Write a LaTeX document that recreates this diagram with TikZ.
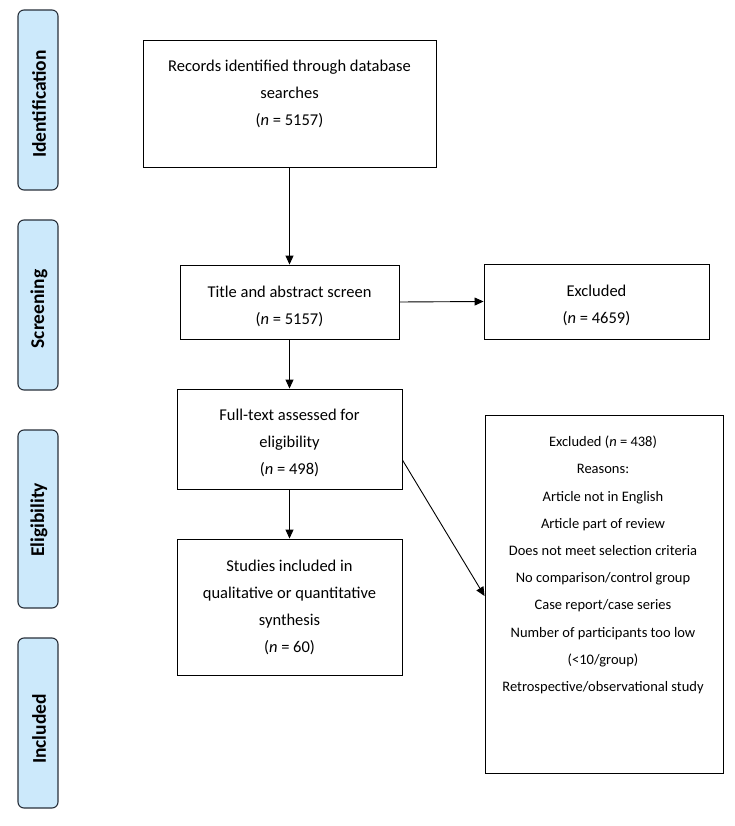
\documentclass[tikz,border=0pt]{standalone}
\usepackage{fontspec}
\setmainfont{Carlito}
\usetikzlibrary{arrows.meta}
\definecolor{phasefill}{RGB}{204,233,251}
\definecolor{phaseline}{RGB}{40,48,58}
\tikzset{
  flowbox/.style={draw=black, line width=0.9pt, rectangle, inner sep=0pt},
  flowtext/.style={align=center, font=\fontsize{16.5}{27}\selectfont, inner sep=0pt},
  smalltext/.style={align=center, font=\fontsize{14.5}{27.2}\selectfont, inner sep=0pt},
  phasebox/.style={draw=phaseline, fill=phasefill, line width=1.1pt, rounded corners=6pt,
    minimum width=40pt, inner sep=0pt},
  phasetext/.style={rotate=90, font=\fontsize{19.5}{22}\selectfont\bfseries, inner sep=0pt},
  arr/.style={line width=0.9pt, -{Triangle[width=8pt,length=9pt]}}
}
\begin{document}
\begin{tikzpicture}[x=1pt,y=-1pt]
\useasboundingbox (0,0) rectangle (734,826);

% phase labels
\node[phasebox, minimum height=180pt] (pid) at (38,100) {};
\node[phasetext] (tid) at (39,104) {Identification};
\node[phasebox, minimum height=170pt] (psc) at (38,305) {};
\node[phasetext] (tsc) at (39,309) {Screening};
\node[phasebox, minimum height=178pt] (pel) at (38,519) {};
\node[phasetext] (tel) at (39,520) {Eligibility};
\node[phasebox, minimum height=170pt] (pin) at (38,723) {};
\node[phasetext] (tin) at (39,729) {Included};

% boxes
\node[flowbox, minimum width=293pt, minimum height=127pt] (rec) at (289.5,103.5) {};
\node[flowtext] (trec) at (289.5,94) {Records identified through database\\searches\\(\textit{n} = 5157)};

\node[flowbox, minimum width=219pt, minimum height=74pt] (tit) at (289.5,302) {};
\node[flowtext] (ttit) at (289.5,306) {Title and abstract screen\\(\textit{n} = 5157)};

\node[flowbox, minimum width=225pt, minimum height=75pt] (ex1) at (596.5,301.5) {};
\node[flowtext] (tex1) at (596.5,305) {Excluded\\(\textit{n} = 4659)};

\node[flowbox, minimum width=225pt, minimum height=100pt] (ful) at (289.5,439) {};
\node[flowtext] (tful) at (289.5,443) {Full-text assessed for\\eligibility\\(\textit{n} = 498)};

\node[flowbox, minimum width=225pt, minimum height=136pt] (stu) at (289.5,607) {};
\node[flowtext] (tstu) at (289.5,607) {Studies included in\\qualitative or quantitative\\synthesis\\(\textit{n} = 60)};

\node[flowbox, minimum width=238pt, minimum height=358pt] (ex2) at (604,594) {};
\node[smalltext] (tex2) at (603,565) {Excluded (\textit{n} = 438)\\Reasons:\\Article not in English\\Article part of review\\Does not meet selection criteria\\No comparison/control group\\Case report/case series\\Number of participants too low\\(<10/group)\\Retrospective/observational study};

% connectors
\draw[arr] (rec.south) -- (tit.north);
\draw[arr] (tit.east) -- (ex1.west);
\draw[arr] (tit.south) -- (ful.north);
\draw[arr] (ful.south) -- (stu.north);
\draw[arr] ([yshift=-21pt]ful.east) -- ([yshift=-2pt]ex2.west);
\end{tikzpicture}
\end{document}
